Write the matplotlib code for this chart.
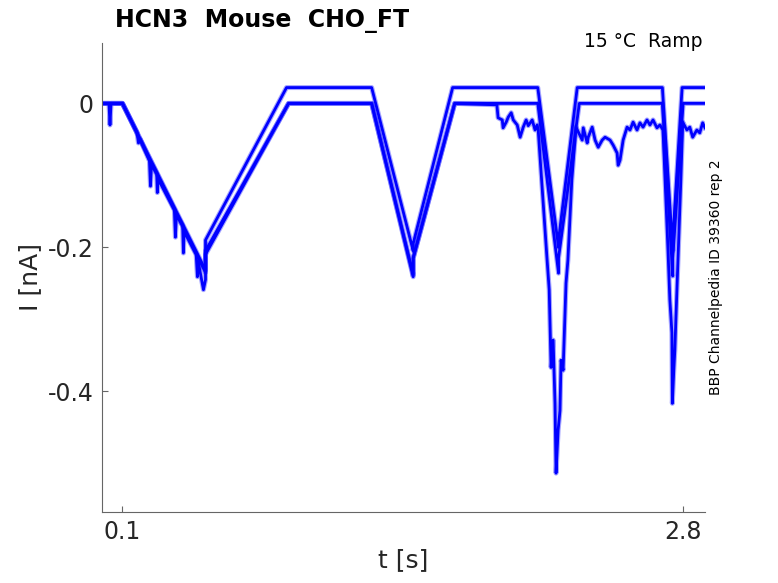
import matplotlib
matplotlib.use("Agg")
import matplotlib.pyplot as plt

plt.rcParams['font.family'] = ['DejaVu Sans']
plt.rcParams['axes.unicode_minus'] = False

# trace A (upper, settles at +0.022 nA)
tA = [0, 0.1, 0.5, 0.5, 0.89, 1.3, 1.5, 1.5, 1.69, 2.1, 2.2, 2.2, 2.29, 2.7, 2.75, 2.75, 2.795, 2.905]
iA = [0, 0, -0.232, -0.19, 0.022, 0.022, -0.205, -0.195, 0.022, 0.022, -0.2, -0.19, 0.022, 0.022, -0.205, -0.19, 0.022, 0.022]

# trace B (baseline 0)
tB = [0, 0.1, 0.5, 0.5, 0.9, 1.3, 1.5, 1.5, 1.7, 2.1, 2.2, 2.2, 2.3, 2.7, 2.75, 2.75, 2.8, 2.905]
iB = [0, 0, -0.235, -0.205, 0, 0, -0.238, -0.215, 0, 0, -0.236, -0.215, 0, 0, -0.24, -0.215, 0, 0]

# trace C (noisy one, runs away after 1.9 s)
tC = [0, 0.035, 0.04, 0.045, 0.1,
      0.17, 0.177, 0.185, 0.23, 0.235, 0.24, 0.265, 0.268, 0.272,
      0.35, 0.355, 0.36, 0.39, 0.3935, 0.397, 0.455, 0.461, 0.465, 0.49, 0.5,
      0.5, 0.9, 1.3, 1.5, 1.5, 1.7,
      1.903, 1.909, 1.929, 1.933, 1.948, 1.958, 1.972, 1.982, 2.001, 2.015,
      2.030, 2.044, 2.054, 2.073, 2.087, 2.097, 2.102,
      2.145, 2.155, 2.164, 2.174, 2.183, 2.188, 2.198, 2.207, 2.212, 2.222,
      2.236, 2.245, 2.264, 2.284,
      2.314, 2.319, 2.338, 2.343, 2.362, 2.376, 2.391, 2.410, 2.424, 2.448,
      2.463, 2.482, 2.487, 2.496, 2.511, 2.530, 2.544, 2.559, 2.578, 2.592,
      2.607, 2.626, 2.640, 2.655, 2.674, 2.688, 2.703,
      2.727, 2.736, 2.746, 2.748, 2.755, 2.760, 2.765, 2.774, 2.789, 2.798,
      2.818, 2.832, 2.846, 2.866, 2.880, 2.894, 2.905]
iC = [0, 0, -0.03, 0, 0,
      -0.04, -0.055, -0.05, -0.08, -0.115, -0.085, -0.098, -0.124, -0.105,
      -0.148, -0.186, -0.155, -0.17, -0.208, -0.178, -0.21, -0.241, -0.22, -0.259, -0.245,
      -0.21, 0, 0, -0.241, -0.215, 0,
      -0.002, -0.020, -0.023, -0.034, -0.026, -0.019, -0.013, -0.023, -0.030, -0.047,
      -0.033, -0.023, -0.031, -0.023, -0.037, -0.030, -0.037,
      -0.218, -0.259, -0.367, -0.329, -0.417, -0.514, -0.454, -0.427, -0.357, -0.371,
      -0.250, -0.218, -0.106, -0.033,
      -0.051, -0.034, -0.055, -0.047, -0.033, -0.051, -0.061, -0.051, -0.047, -0.051,
      -0.058, -0.069, -0.086, -0.079, -0.051, -0.033, -0.037, -0.026, -0.037, -0.027,
      -0.033, -0.023, -0.030, -0.023, -0.034, -0.030, -0.037,
      -0.204, -0.273, -0.319, -0.417, -0.371, -0.343, -0.301, -0.227, -0.106, -0.026,
      -0.037, -0.033, -0.047, -0.037, -0.041, -0.027, -0.034]

xticks = [0.1, 2.8]
yticks = [0, -0.2, -0.4]

fig = plt.figure(figsize=(7.78, 5.83), dpi=100)
ax = fig.add_axes([0.1307, 0.1218, 0.7754, 0.8045])

# soft halo first (recording noise makes the traces look fuzzy), then the core line
for t, i in [(tC, iC), (tB, iB), (tA, iA)]:
    ax.plot(t, i, color=(0, 0, 1), lw=3.6, alpha=0.35)
for t, i in [(tC, iC), (tB, iB), (tA, iA)]:
    ax.plot(t, i, color=(0, 0, 1), lw=2.0)

ax.set_xlim(0, 2.905)
ax.set_ylim(-0.568, 0.084)
ax.set_xticks(xticks)
ax.set_xticklabels(['0.1', '2.8'])
ax.set_yticks(yticks)
ax.set_yticklabels(['0', '-0.2', '-0.4'])

for s in ['top', 'right']:
    ax.spines[s].set_visible(False)
for s in ['left', 'bottom']:
    ax.spines[s].set_color('0.4')
    ax.spines[s].set_linewidth(0.8)
ax.tick_params(direction='in', length=4, width=0.8, color='0.4',
               labelsize=17, labelcolor='#262626', pad=6)

ax.set_xlabel('t [s]', fontsize=18, color='#262626', labelpad=3)
ax.set_ylabel('I [nA]', fontsize=18, color='#262626', labelpad=4)

fig.text(115 / 778, 1 - 27 / 583, 'HCN3  Mouse  CHO_FT', fontsize=17,
         fontweight='bold', ha='left', va='baseline')
fig.text(703 / 778, 1 - 47 / 583, '15 °C  Ramp', fontsize=13.5,
         ha='right', va='baseline')
fig.text(716 / 778, 1 - 277 / 583, 'BBP Channelpedia ID 39360 rep 2',
         fontsize=10, rotation=90, ha='center', va='center')

fig.savefig('out.png', dpi=100)
